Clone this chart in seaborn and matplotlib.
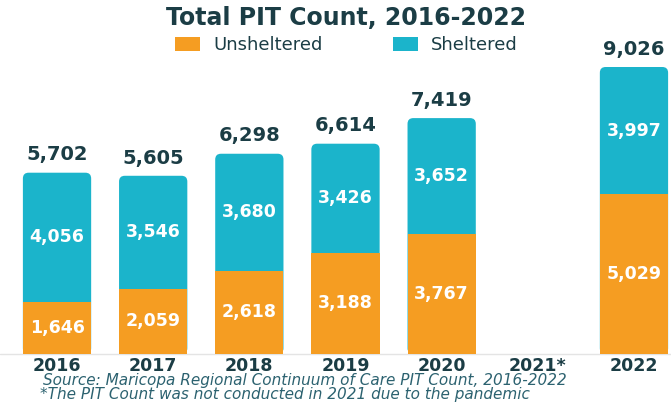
import pandas as pd
import matplotlib
matplotlib.use("Agg")
import matplotlib.pyplot as plt
import seaborn as sns
from matplotlib.patches import FancyBboxPatch, Patch
from matplotlib import transforms

# Data
years = ["2016", "2017", "2018", "2019", "2020", "2021*", "2022"]
counted_years = ["2016", "2017", "2018", "2019", "2020", "2022"]
unsheltered = [1646, 2059, 2618, 3188, 3767, 5029]
sheltered = [4056, 3546, 3680, 3426, 3652, 3997]
totals = [5702, 5605, 6298, 6614, 7419, 9026]

orange = "#F59D22"
teal = "#1BB4CB"
dark = "#1B3D45"

df = pd.DataFrame({"year": counted_years, "Unsheltered": unsheltered,
                   "Sheltered": sheltered, "Total": totals})

sns.set_style("white")
plt.rcParams["font.family"] = ["DejaVu Sans"]

fig = plt.figure(figsize=(6.71, 4.04), dpi=100)
ax = fig.add_axes([0, 0, 1, 1])

# total bar in teal, unsheltered drawn over it in orange
sns.barplot(data=df, x="year", y="Total", order=years, color=teal,
            saturation=1, width=0.71, linewidth=0, ax=ax)
teal_bars = list(ax.patches)
sns.barplot(data=df, x="year", y="Unsheltered", order=years, color=orange,
            saturation=1, width=0.71, linewidth=0, ax=ax, zorder=3)

# limits so the bars sit where they are in the picture
ax.set_xlim(-0.593, 6.385)
ax.set_ylim(-1572, 11133)
aspect = (1 / 0.031797) / (1 / 96.17)

for p in teal_bars:
    x, y, w, h = p.get_x(), p.get_y(), p.get_width(), p.get_height()
    if pd.isna(h) or h == 0:
        p.remove()
        continue
    rb = FancyBboxPatch((x, y), w, h, boxstyle="round,pad=0,rounding_size=0.06",
                        mutation_aspect=aspect, facecolor=teal, edgecolor="none",
                        zorder=2)
    ax.add_patch(rb)
    p.remove()

ax.axhline(0, color="#e4e4e4", lw=1, zorder=1)

pos = {y: i for i, y in enumerate(years)}
for _, r in df.iterrows():
    i = pos[r["year"]]
    ax.text(i, r["Unsheltered"] / 2, f"{r['Unsheltered']:,}", ha="center", va="center",
            color="white", fontsize=12.5, fontweight="bold", zorder=5)
    ax.text(i, r["Unsheltered"] + r["Sheltered"] / 2, f"{r['Sheltered']:,}", ha="center",
            va="center", color="white", fontsize=12.5, fontweight="bold", zorder=5)
    ax.text(i, r["Total"] + 260, f"{r['Total']:,}", ha="center", va="bottom",
            color=dark, fontsize=14, fontweight="bold", zorder=5)

# year labels under the bars
trans = transforms.blended_transform_factory(ax.transData, fig.transFigure)
for i, y in enumerate(years):
    ax.text(i, 1 - 366 / 404, y, transform=trans, ha="center", va="center",
            color=dark, fontsize=12.5, fontweight="bold")

ax.set_axis_off()

fig.text(0.516, 1 - 18 / 404, "Total PIT Count, 2016-2022", ha="center", va="center",
         color=dark, fontsize=17, fontweight="heavy")

handles = [Patch(facecolor=orange, edgecolor="none", label="Unsheltered"),
           Patch(facecolor=teal, edgecolor="none", label="Sheltered")]
fig.legend(handles=handles, loc="center", bbox_to_anchor=(0.516, 1 - 45 / 404),
           ncol=2, frameon=False, fontsize=13, handlelength=1.4, handleheight=0.8,
           handletextpad=0.7, columnspacing=3.9, labelcolor=dark)

fig.text(43 / 671, 1 - 381 / 404,
         "Source: Maricopa Regional Continuum of Care PIT Count, 2016-2022",
         ha="left", va="center", color="#2C6270", fontsize=11, style="italic")
fig.text(40 / 671, 1 - 395 / 404,
         "*The PIT Count was not conducted in 2021 due to the pandemic",
         ha="left", va="center", color="#2C6270", fontsize=11, style="italic")

fig.savefig("out.png", dpi=100)
